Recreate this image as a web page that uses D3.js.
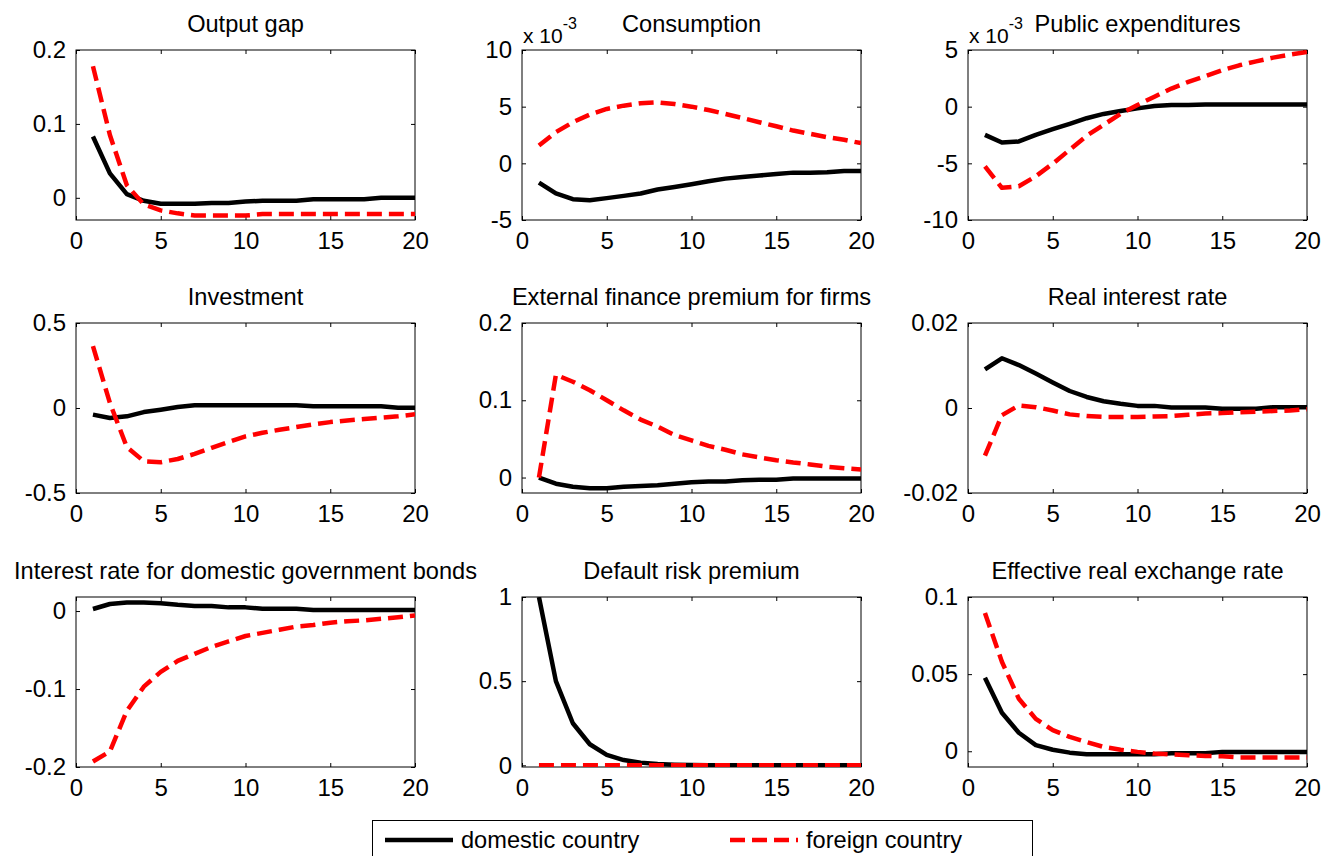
<!DOCTYPE html>
<html>
<head>
<meta charset="utf-8">
<script src="https://cdn.jsdelivr.net/npm/d3@7"></script>
<style>
  body { margin: 0; background: #fff; }
  svg text { font-family: "Liberation Sans", Arial, sans-serif; fill: #000; }
</style>
</head>
<body>
<svg id="chart" width="1334" height="856"></svg>
<script>
// horizon (quarters)
const periods = [1, 2, 3, 4, 5, 6, 7, 8, 9, 10, 11, 12, 13, 14, 15, 16, 17, 18, 19, 20];
const xTicks = [0, 5, 10, 15, 20];

const titles = ["Output gap", "Consumption", "Public expenditures",
                "Investment", "External finance premium for firms", "Real interest rate",
                "Interest rate for domestic government bonds", "Default risk premium", "Effective real exchange rate"];

const legendLabels = ["domestic country", "foreign country"];

// y limits and ticks, as on the picture (two panels are in units of 10^-3)
const yDomains = [[-0.03, 0.2], [-5, 10], [-10, 5],
                  [-0.5, 0.5], [-0.02, 0.2], [-0.02, 0.02],
                  [-0.2, 0.018], [-0.01, 1], [-0.0102, 0.1]];
const yTicks = [[0, 0.1, 0.2], [-5, 0, 5, 10], [-10, -5, 0, 5],
                [-0.5, 0, 0.5], [0, 0.1, 0.2], [-0.02, 0, 0.02],
                [-0.2, -0.1, 0], [0, 0.5, 1], [0, 0.05, 0.1]];
const yExponents = [null, -3, -3, null, null, null, null, null, null];

// series
const outputGapDom = [0.083, 0.033, 0.005, -0.004, -0.008, -0.008, -0.008, -0.007, -0.007, -0.005,
                      -0.004, -0.004, -0.004, -0.002, -0.002, -0.002, -0.002, 0, 0, 0];
const outputGapFor = [0.178, 0.085, 0.017, -0.009, -0.017, -0.021, -0.024, -0.024, -0.024, -0.024,
                      -0.022, -0.022, -0.022, -0.022, -0.022, -0.022, -0.022, -0.022, -0.022, -0.022];

const consumptionDom = [-1.7, -2.66, -3.16, -3.25, -3.07, -2.87, -2.66, -2.31, -2.08, -1.84,
                        -1.58, -1.35, -1.2, -1.08, -0.94, -0.82, -0.82, -0.79, -0.67, -0.67];
const consumptionFor = [1.58, 2.75, 3.63, 4.3, 4.8, 5.09, 5.3, 5.38, 5.23, 5.0,
                        4.7, 4.36, 4.0, 3.63, 3.27, 2.89, 2.6, 2.31, 2.08, 1.78];

const publicExpDom = [-2.49, -3.16, -3.07, -2.49, -1.99, -1.52, -1.02, -0.64, -0.38, -0.15,
                      0.06, 0.15, 0.15, 0.2, 0.2, 0.2, 0.2, 0.2, 0.2, 0.2];
const publicExpFor = [-5.26, -7.16, -7.02, -6.14, -5.03, -3.8, -2.57, -1.6, -0.64, 0.15,
                      0.88, 1.6, 2.19, 2.69, 3.22, 3.65, 4.0, 4.33, 4.59, 4.82];

const investmentDom = [-0.039, -0.059, -0.049, -0.024, -0.01, 0.006, 0.016, 0.016, 0.016, 0.016,
                       0.016, 0.016, 0.016, 0.01, 0.01, 0.01, 0.01, 0.01, 0.002, 0.002];
const investmentFor = [0.364, 0.03, -0.23, -0.313, -0.319, -0.3, -0.27, -0.234, -0.2, -0.167,
                       -0.146, -0.128, -0.112, -0.096, -0.083, -0.073, -0.065, -0.057, -0.049, -0.037];

const efpDom = [0, -0.008, -0.012, -0.014, -0.014, -0.012, -0.011, -0.01, -0.008, -0.006,
                -0.005, -0.005, -0.0035, -0.003, -0.003, -0.0013, -0.0013, -0.0013, -0.0013, -0.0013];
const efpFor = [0, 0.133, 0.124, 0.113, 0.1, 0.087, 0.075, 0.066, 0.055, 0.048,
                0.041, 0.036, 0.03, 0.026, 0.0225, 0.0195, 0.017, 0.014, 0.012, 0.0104];

const realRateDom = [0.0091, 0.0117, 0.0101, 0.0081, 0.006, 0.004, 0.0026, 0.0016, 0.001, 0.0005,
                     0.0005, 0.0001, 0.0001, 0.0001, -0.0002, -0.0002, -0.0002, 0.0002, 0.0002, 0.0002];
const realRateFor = [-0.0112, -0.0017, 0.0006, 0.0002, -0.0006, -0.0015, -0.0019, -0.0021, -0.0021, -0.0021,
                     -0.002, -0.0019, -0.0016, -0.0013, -0.0012, -0.001, -0.0009, -0.0007, -0.0006, -0.0003];

const govBondDom = [0.0026, 0.009, 0.011, 0.011, 0.01, 0.008, 0.0065, 0.0065, 0.0047, 0.0047,
                    0.003, 0.003, 0.003, 0.0013, 0.0013, 0.0013, 0.0013, 0.0013, 0.0013, 0.0013];
const govBondFor = [-0.193, -0.18, -0.128, -0.097, -0.078, -0.064, -0.055, -0.046, -0.039, -0.032,
                    -0.028, -0.024, -0.02, -0.018, -0.015, -0.013, -0.012, -0.01, -0.008, -0.0056];

const riskPremDom = [1, 0.5, 0.25, 0.125, 0.0625, 0.031, 0.016, 0.008, 0.004, 0.002,
                     0.001, 0.0005, 0.0002, 0.0001, 0, 0, 0, 0, 0, 0];
const riskPremFor = [0, 0, 0, 0, 0, 0, 0, 0, 0, 0,
                     0, 0, 0, 0, 0, 0, 0, 0, 0, 0];

const reerDom = [0.0477, 0.025, 0.012, 0.004, 0.001, -0.0009, -0.002, -0.002, -0.002, -0.002,
                 -0.002, -0.0013, -0.0013, -0.0013, -0.0004, -0.0004, -0.0004, -0.0004, -0.0004, -0.0004];
const reerFor = [0.0896, 0.058, 0.034, 0.021, 0.0137, 0.0093, 0.006, 0.0028, 0.001, -0.0004,
                 -0.0015, -0.002, -0.0026, -0.003, -0.0033, -0.004, -0.004, -0.004, -0.004, -0.004];

const domesticSeries = [outputGapDom, consumptionDom, publicExpDom, investmentDom, efpDom,
                        realRateDom, govBondDom, riskPremDom, reerDom];
const foreignSeries = [outputGapFor, consumptionFor, publicExpFor, investmentFor, efpFor,
                       realRateFor, govBondFor, riskPremFor, reerFor];

const colors = ["#000000", "#ff0000"];
const dashes = [null, "15,7"];

class IrfPanel {
  constructor(svg, idx, left, top, width, height) {
    const vis = this;

    vis.svg = svg;
    vis.idx = idx;
    vis.left = left;
    vis.top = top;
    vis.width = width;
    vis.height = height;
    vis.tickLen = 4;

    vis.xScale = d3.scaleLinear()
        .domain([0, 20])
        .range([0, vis.width]);
    vis.yScale = d3.scaleLinear()
        .domain(yDomains[idx])
        .range([vis.height, 0]);

    vis.line = d3.line()
        .x((d, i) => vis.xScale(periods[i]))
        .y(d => vis.yScale(d));

    vis.initPlot();
    vis.drawAxes();
    vis.drawCurves();
  }

  initPlot() {
    const vis = this;

    vis.g = vis.svg.append("g")
        .attr("transform", "translate(" + vis.left + "," + vis.top + ")");

    vis.g.append("clipPath")
        .attr("id", "clip" + vis.idx)
      .append("rect")
        .attr("width", vis.width)
        .attr("height", vis.height);

    vis.g.append("text")
        .attr("x", vis.width / 2)
        .attr("y", -18)
        .attr("text-anchor", "middle")
        .style("font-size", "23.6px")
        .text(titles[vis.idx]);

    if (yExponents[vis.idx] !== null) {
      let t = vis.g.append("text")
          .attr("x", 1)
          .attr("y", -7)
          .style("font-size", "21px");
      t.append("tspan").text("x 10");
      t.append("tspan")
          .attr("dy", -14)
          .style("font-size", "16px")
          .text(yExponents[vis.idx]);
    }
  }

  drawAxes() {
    const vis = this;

    vis.gXAxis = vis.g.append("g")
        .attr("transform", "translate(0," + vis.height + ")")
        .call(d3.axisBottom(vis.xScale).tickValues(xTicks).tickSize(-vis.tickLen).tickFormat(d => d));
    vis.gXTop = vis.g.append("g")
        .call(d3.axisTop(vis.xScale).tickValues(xTicks).tickSize(-vis.tickLen).tickFormat(""));

    vis.gYAxis = vis.g.append("g")
        .call(d3.axisLeft(vis.yScale).tickValues(yTicks[vis.idx]).tickSize(-vis.tickLen).tickPadding(10).tickFormat(d => String(d)));
    vis.gYRight = vis.g.append("g")
        .attr("transform", "translate(" + vis.width + ",0)")
        .call(d3.axisRight(vis.yScale).tickValues(yTicks[vis.idx]).tickSize(-vis.tickLen).tickFormat(""));

    [vis.gXAxis, vis.gXTop, vis.gYAxis, vis.gYRight].forEach(a => {
      a.selectAll(".domain").remove();
      a.selectAll("line").attr("stroke", "#000").attr("stroke-width", 1);
      a.selectAll("text")
          .style("font-family", "'Liberation Sans', Arial, sans-serif")
          .style("font-size", "24px")
          .attr("fill", "#000");
    });
    vis.gXAxis.selectAll("text").attr("dy", "0.75em").attr("y", 11);

    vis.g.append("rect")
        .attr("width", vis.width)
        .attr("height", vis.height)
        .attr("fill", "none")
        .attr("stroke", "#000")
        .attr("stroke-width", 1);
  }

  drawCurves() {
    const vis = this;

    let curves = [domesticSeries[vis.idx], foreignSeries[vis.idx]];

    vis.g.append("g")
        .attr("clip-path", "url(#clip" + vis.idx + ")")
      .selectAll("path")
      .data(curves)
      .join("path")
        .attr("fill", "none")
        .attr("stroke", (d, i) => colors[i])
        .attr("stroke-width", 4.5)
        .attr("stroke-linejoin", "round")
        .attr("stroke-dasharray", (d, i) => dashes[i])
        .attr("d", d => vis.line(d));
  }
}

const svg = d3.select("#chart");

const colLeft = [76, 522, 968];
const rowTop = [50, 323, 597];
const panelW = 339, panelH = 170;

titles.forEach((t, i) => {
  new IrfPanel(svg, i, colLeft[i % 3], rowTop[Math.floor(i / 3)], panelW, panelH);
});

// legend
const legend = svg.append("g").attr("class", "legend");
legend.append("rect")
    .attr("x", 372.5)
    .attr("y", 820.5)
    .attr("width", 660)
    .attr("height", 50)
    .attr("fill", "#fff")
    .attr("stroke", "#000")
    .attr("stroke-width", 1);

const legendX = [385, 730];
legendLabels.forEach((lab, i) => {
  legend.append("line")
      .attr("x1", legendX[i])
      .attr("x2", legendX[i] + 68)
      .attr("y1", 840)
      .attr("y2", 840)
      .attr("stroke", colors[i])
      .attr("stroke-width", 4.5)
      .attr("stroke-dasharray", dashes[i]);
  legend.append("text")
      .attr("x", legendX[i] + 76)
      .attr("y", 848)
      .style("font-size", "23.6px")
      .text(lab);
});
</script>
</body>
</html>
